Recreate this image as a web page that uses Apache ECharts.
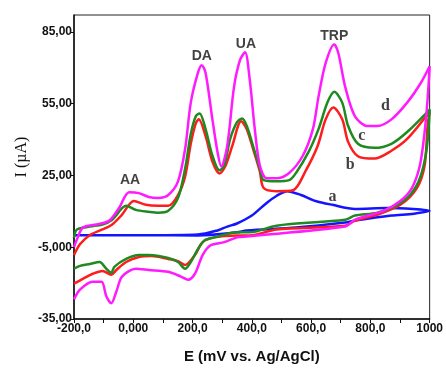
<!DOCTYPE html>
<html>
<head>
<meta charset="utf-8">
<script src="https://cdn.jsdelivr.net/npm/echarts@6/dist/echarts.min.js"></script>
<style>
  html, body { margin: 0; padding: 0; background: #fff; }
  #chart { width: 446px; height: 369px; }
</style>
</head>
<body>
<div id="chart"></div>
<script>
// potentials (mV) and currents (µA), forward scan then reverse scan
const aE = [-200, 52, 218, 284, 317, 350, 400, 450, 483, 519, 566, 615, 672, 748, 857, 1000,
  947, 871, 748, 715, 549, 383, 350, 218, 52, -200];
const aI = [0, 0, 0.3, 2, 3.6, 4.9, 8.2, 13.5, 16.4, 18.4, 16.8, 14.3, 12.7, 11, 11.4, 10.2,
  9, 8.2, 6.1, 5.3, 3.2, 2, 1.2, -0.1, 0, 0];

const bE = [-200, -180, -147, -104, -71, -38, 2, 42, 85, 118, 151, 175, 194, 211, 221, 244, 267, 291, 310, 334, 364, 383, 407, 427, 440, 483, 539, 582, 622, 649, 675, 705, 725, 758, 814, 871, 924, 1000,
  993, 983, 957, 901, 824, 748, 715, 483, 393, 350, 274, 234, 208, 175, 151, 118, 62, 19, -24, -57, -74, -104, -137, -170, -200];
const bI = [-8.3, -3.8, 0, 2.4, 4.5, 8.6, 14.3, 12.7, 12.3, 12.3, 16.8, 24.6, 38.2, 46.8, 48.4, 41.4, 30.8, 25.8, 28.7, 37.3, 47.6, 44.3, 34.9, 26.7, 19.7, 18.4, 18.8, 27, 37.3, 48.4, 53.4, 48.4, 39, 33, 32, 35.3, 40.2, 51.7,
  45.6, 29.1, 19.7, 12.7, 8.6, 6.1, 4, 2.4, -0.1, -0.1, -0.9, -2.9, -8.3, -12.4, -10.8, -9.9, -8.7, -9.1, -11.2, -14.5, -16.5, -14.9, -16.1, -18.2, -20.2];

const cE = [-200, -190, -147, -104, -71, -24, 9, 52, 85, 118, 151, 175, 194, 211, 224, 244, 267, 291, 307, 327, 350, 367, 383, 407, 427, 440, 483, 526, 549, 592, 625, 655, 678, 705, 725, 758, 814, 871, 924, 1000,
  990, 967, 934, 891, 824, 748, 715, 483, 393, 350, 274, 241, 218, 194, 175, 151, 118, 52, 19, -24, -64, -74, -91, -114, -147, -180, -200];
const cI = [-1, 2.4, 3.6, 4.5, 6.5, 12.3, 10.6, 9.8, 9.4, 10.2, 15.6, 27.9, 42.3, 49.7, 50.9, 44.3, 33.2, 27.1, 29.1, 40.2, 47.2, 48.8, 45.6, 36.1, 27.9, 23, 22.5, 23, 26, 34.9, 44.3, 55.4, 59.9, 55.4, 45.6, 38.2, 36.5, 38.2, 43.1, 52.5,
  36.1, 23.8, 16.8, 12.7, 9.4, 8.2, 6.5, 4, 1.2, 1.2, -0.9, -2.1, -5.8, -11.2, -14, -11.2, -9.5, -8.3, -8.3, -9.9, -13.2, -15.7, -14, -11.2, -12, -12.8, -14];

const dE = [-200, -190, -170, -124, -81, -48, -14, 19, 52, 85, 118, 151, 175, 194, 218, 231, 244, 267, 284, 297, 317, 340, 360, 377, 393, 410, 427, 450, 483, 526, 572, 606, 625, 649, 678, 692, 715, 748, 791, 824, 871, 924, 970, 1000,
  993, 983, 967, 940, 901, 844, 748, 715, 383, 350, 307, 261, 234, 208, 185, 161, 118, 52, 9, -38, -57, -74, -91, -107, -137, -180, -200];
const dI = [-5, -1.7, 3.2, 4.5, 6.1, 11.4, 18, 17.6, 16, 15.6, 16.8, 22.5, 36.1, 55.4, 67.8, 71, 67.8, 48.4, 34.9, 28.7, 37.3, 62, 73.1, 76.4, 64.9, 44.3, 29.1, 23.8, 23.8, 26, 33.2, 44.3, 57.9, 71.9, 79.7, 76, 62, 49.7, 45.6, 45.6, 48.4, 55.4, 63.6, 70.6,
  56.7, 43.1, 29.1, 19.7, 14.3, 10.2, 6.5, 3.6, -0.5, -0.9, -2.9, -4.2, -8.3, -16.1, -18.6, -17.3, -15.3, -14.5, -14, -17.3, -23.5, -28.4, -25.5, -19.4, -19.4, -22.7, -26.8];

// annotations
const peakNames = ['AA', 'DA', 'UA', 'TRP'];
const peakE = [-11, 231, 380, 678];
const peakI = [23, 75, 80, 83];
const curveNames = ['a', 'b', 'c', 'd'];
const curveE = [672, 732, 771, 851];
const curveI = [16, 29.5, 41.4, 54.2];

// tick labels
const xTicks = [-200, 0, 200, 400, 600, 800, 1000];
const xTickLabels = ['-200,0', '0,000', '200,0', '400,0', '600,0', '800,0', '1000'];
const yTicks = [-35, -5, 25, 55, 85];
const yTickLabels = ['-35,00', '-5,000', '25,00', '55,00', '85,00'];

const colors = { a: '#1414ff', b: '#ff1c1c', c: '#1f8a1f', d: '#ff1aff' };

const zip = (xs, ys) => xs.map((x, i) => [x, ys[i]]);

const tickFont = {
  fontFamily: '"Liberation Sans Narrow", "Arial Narrow", sans-serif',
  fontWeight: 'bold',
  fontSize: 12,
  color: '#111',
};

const curve = (name, xs, ys) => ({
  name: name,
  type: 'line',
  data: zip(xs, ys),
  smooth: 0.3,
  showSymbol: false,
  lineStyle: { color: colors[name], width: 2.5 },
  z: name === 'a' ? 1 : 2,
});

const chart = echarts.init(document.getElementById('chart'));

chart.setOption({
  animation: false,
  grid: {
    left: 74,
    right: 9,
    top: 15,
    bottom: 46,
    show: true,
    borderColor: '#222',
    borderWidth: 1,
  },
  xAxis: {
    type: 'value',
    min: -200,
    max: 1000,
    interval: 100,
    name: 'E (mV vs. Ag/AgCl)',
    nameLocation: 'middle',
    nameGap: 30,
    nameTextStyle: {
      fontFamily: 'Arial, "Liberation Sans", sans-serif',
      fontWeight: 'bold',
      fontSize: 15,
      color: '#111',
    },
    axisLine: { show: true, onZero: false, lineStyle: { color: '#111', width: 1.5 } },
    axisTick: { show: true, inside: false, length: 4, lineStyle: { color: '#111' } },
    axisLabel: Object.assign({}, tickFont, {
      margin: 4,
      formatter: (v) => {
        const k = xTicks.indexOf(v);
        return k >= 0 ? xTickLabels[k] : '';
      },
    }),
    splitLine: { show: false },
  },
  yAxis: {
    type: 'value',
    min: -35,
    max: 92,
    interval: 30,
    axisLine: { show: true, onZero: false, lineStyle: { color: '#111', width: 1.5 } },
    axisTick: { show: true, inside: false, length: 3, lineStyle: { color: '#111' } },
    axisLabel: Object.assign({}, tickFont, {
      margin: 2,
      showMaxLabel: false,
      formatter: (v) => {
        const k = yTicks.indexOf(v);
        return k >= 0 ? yTickLabels[k] : '';
      },
    }),
    splitLine: { show: false },
  },
  graphic: [
    {
      type: 'text',
      x: 22,
      y: 157,
      rotation: Math.PI / 2,
      style: {
        text: 'I (µA)',
        font: '16px "Liberation Serif", "Times New Roman", serif',
        fill: '#111',
        align: 'center',
        verticalAlign: 'middle',
      },
    },
  ],
  series: [
    curve('a', aE, aI),
    curve('b', bE, bI),
    curve('c', cE, cI),
    curve('d', dE, dI),
    {
      type: 'scatter',
      symbolSize: 0,
      silent: true,
      data: peakE.map((e, i) => [e, peakI[i], peakNames[i]]),
      label: {
        show: true,
        position: 'inside',
        formatter: (p) => p.data[2],
        fontFamily: 'Arial, "Liberation Sans", sans-serif',
        fontWeight: 'bold',
        fontSize: 14,
        color: '#111',
      },
      z: 5,
    },
    {
      type: 'scatter',
      symbolSize: 0,
      silent: true,
      data: curveE.map((e, i) => [e, curveI[i], curveNames[i]]),
      label: {
        show: true,
        position: 'inside',
        formatter: (p) => p.data[2],
        fontFamily: '"Liberation Serif", "Times New Roman", serif',
        fontWeight: 'bold',
        fontSize: 16,
        color: '#111',
      },
      z: 5,
    },
  ],
});
</script>
</body>
</html>
